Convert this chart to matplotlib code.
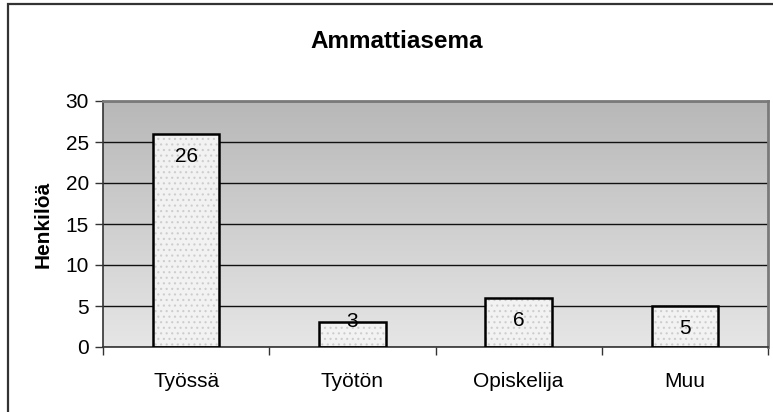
import numpy as np
import matplotlib
matplotlib.use('Agg')
import matplotlib.pyplot as plt
from matplotlib.patches import Rectangle
from matplotlib.colors import LinearSegmentedColormap

categories = ['Työssä', 'Työtön', 'Opiskelija', 'Muu']
values = [26, 3, 6, 5]
title = 'Ammattiasema'
ylabel = 'Henkilöä'

plt.rcParams['font.family'] = ['Liberation Sans', 'DejaVu Sans']

W, H = 773, 412
fig = plt.figure(figsize=(W / 100, H / 100), dpi=100)
ax = fig.add_axes([103 / W, 1 - 347 / H, (768 - 103) / W, (347 - 101) / H])

# outer chart border (cut off at right/bottom like the reference)
fig.patches.append(Rectangle((8 / W, -0.2), 1.2, 1.2 - 4 / H, transform=fig.transFigure,
                             fill=False, edgecolor='#333333', linewidth=1.6))

x = np.arange(len(categories))
ax.set_xlim(-0.5, len(categories) - 0.5)
ax.set_ylim(0, 30)

# gradient plot area
cmap = LinearSegmentedColormap.from_list('bg', ['#e6e6e6', '#b8b8b8'])
grad = np.linspace(0, 1, 256).reshape(-1, 1)
ax.imshow(grad, extent=[-0.5, len(categories) - 0.5, 0, 30], origin='lower',
          aspect='auto', cmap=cmap, zorder=0)

ax.set_yticks(range(0, 31, 5))
ax.yaxis.grid(True, color='#111111', linewidth=1.0, zorder=1)
ax.set_axisbelow(True)

# stippled bars
plt.rcParams['hatch.linewidth'] = 0.8
ax.bar(x, values, width=0.4, color='#f2f2f2', edgecolor='#cdcdcd', hatch='...',
       linewidth=0, zorder=2)
ax.bar(x, values, width=0.4, fill=False, edgecolor='black', linewidth=1.8, zorder=3)

for xi, v in zip(x, values):
    off = -23 if v * 8.2 > 40 else 1
    ax.annotate(str(v), (xi, v), xytext=(0, off), textcoords='offset pixels',
                ha='center', va='center', fontsize=15, zorder=4)

ax.set_xticks(x)
ax.set_xticklabels(categories, fontsize=15)
ax.set_xticks(np.arange(-0.5, len(categories), 1), minor=True)
ax.tick_params(axis='x', which='major', length=0, pad=18)
ax.tick_params(axis='x', which='minor', length=6, width=1, color='#333333', direction='out')
ax.tick_params(axis='y', labelsize=15, length=6, width=1, color='#333333', direction='out', pad=4)

for s in ['left', 'bottom']:
    ax.spines[s].set_color('#333333')
    ax.spines[s].set_linewidth(1.2)
for s in ['top', 'right']:
    ax.spines[s].set_color('#7a7a7a')
    ax.spines[s].set_linewidth(2)

ax.set_ylabel(ylabel, fontsize=15, fontweight='bold')
ax.yaxis.set_label_coords(-0.075, 0.5)
fig.text(397 / W, 1 - 41 / H, title, ha='center', va='center', fontsize=17.5, fontweight='bold')

fig.savefig('out.png', dpi=100)
